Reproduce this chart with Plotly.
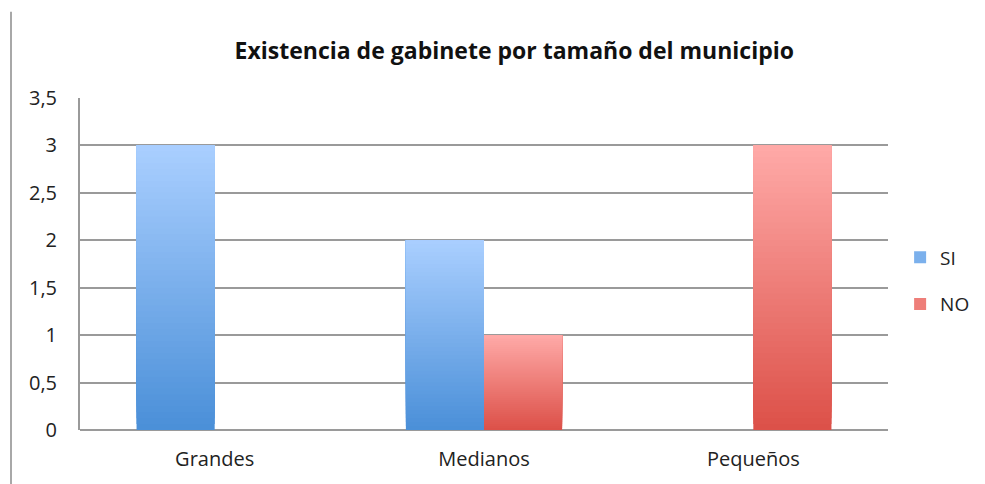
import plotly.graph_objects as go

categories = ["Grandes", "Medianos", "Pequeños"]
si_values = [3, 2, 0]
no_values = [0, 1, 3]
y_ticks = [0, 0.5, 1, 1.5, 2, 2.5, 3, 3.5]
y_tick_labels = ["0", "0,5", "1", "1,5", "2", "2,5", "3", "3,5"]
title_text = "Existencia de gabinete por tamaño del municipio"

series = [
    ("SI", si_values, (74, 143, 216), (170, 207, 255)),
    ("NO", no_values, (220, 80, 72), (255, 170, 168)),
]

N = 48
FONT = "Open Sans, Lato, sans-serif"


def mix(c0, c1, t):
    return "rgb(%d,%d,%d)" % tuple(round(a + (b - a) * t) for a, b in zip(c0, c1))


fig = go.Figure()
for name, vals, c_bot, c_top in series:
    for i in range(N):
        t = (i + 0.5) / N
        # each layer spans from its own base to the bar top; later layers cover
        # the upper part of earlier ones, giving a seamless vertical gradient
        fig.add_trace(go.Bar(
            x=categories,
            y=[v - v * i / N for v in vals],
            base=[v * i / N for v in vals],
            offsetgroup=name,
            legendgroup=name,
            name=name,
            showlegend=(i == N // 2),
            marker=dict(color=mix(c_bot, c_top, t), line=dict(width=0)),
            hovertemplate=name + ": %{customdata}<extra></extra>",
            customdata=vals,
        ))

fig.update_layout(
    width=985, height=484,
    margin=dict(l=72, r=105, t=90, b=62, autoexpand=False),
    paper_bgcolor="white", plot_bgcolor="white",
    barmode="group", bargap=0.42, bargroupgap=0,
    font=dict(family=FONT, size=19, color="#222"),
    title=dict(text="<b>" + title_text + "</b>", x=0.514, xanchor="center",
               y=0.912, yanchor="middle", font=dict(size=23, color="#111", family=FONT)),
    legend=dict(x=1.015, y=0.449, xanchor="left", yanchor="middle",
                font=dict(size=19, color="#222"), tracegroupgap=19,
                itemwidth=30, traceorder="grouped", bgcolor="rgba(0,0,0,0)"),
    showlegend=True,
)
fig.update_xaxes(showgrid=False, showline=False, ticks="", tickfont=dict(size=20),
                 ticklabelstandoff=15, fixedrange=True)
fig.update_yaxes(range=[0, 3.5], tickvals=y_ticks, ticktext=y_tick_labels,
                 showgrid=True, gridcolor="#9a9a9a", gridwidth=2,
                 showline=True, linecolor="#9a9a9a", linewidth=2,
                 zeroline=True, zerolinecolor="#9a9a9a", zerolinewidth=2,
                 ticks="", ticklabelstandoff=17, tickfont=dict(size=20), fixedrange=True)

# outer frame line at left of the image
fig.add_shape(type="line", xref="paper", yref="paper",
              x0=-0.0854, x1=-0.0854, y0=1.26, y1=-0.2,
              line=dict(color="#a8a8a8", width=2))

fig.write_html("out.html")
